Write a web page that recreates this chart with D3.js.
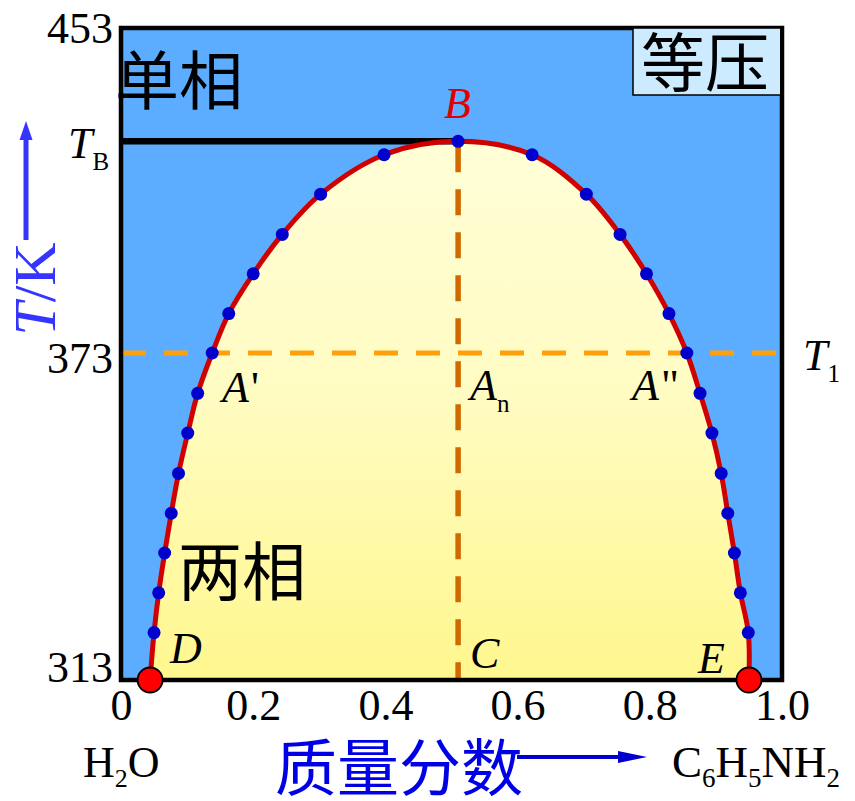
<!DOCTYPE html>
<html>
<head>
<meta charset="utf-8">
<script src="https://cdn.jsdelivr.net/npm/d3@7/dist/d3.min.js"></script>
<style>
  html, body { margin: 0; padding: 0; background: #fff; }
  svg { display: block; }
  .serif { font-family: "Liberation Serif", "DejaVu Serif", serif; }
  .cjk { font-family: "Noto Sans CJK SC", sans-serif; }
</style>
</head>
<body>
<svg id="chart" width="855" height="801"></svg>
<script>
// Temperature–composition diagram of the water / aniline system (isobaric)

// temperatures (K) of the measured points on the coexistence curve, top to bottom
const pointT = [421.8, 412.1, 402.2, 392.5, 382.7, 373, 365.6, 358.3, 350.9, 343.6, 336.3, 329.0, 321.7];
// aniline mass fraction of the water-rich branch at those temperatures
const leftW  = [0.398, 0.302, 0.244, 0.200, 0.163, 0.138, 0.116, 0.101, 0.087, 0.076, 0.066, 0.057, 0.050];
// aniline mass fraction of the aniline-rich branch at those temperatures
const rightW = [0.622, 0.704, 0.755, 0.795, 0.829, 0.856, 0.876, 0.894, 0.908, 0.918, 0.928, 0.937, 0.949];
// critical point B (mass fraction, T) and the two end points D, E at 313 K
const pointB = [0.510, 425.1];
const pointD = [0.044, 313];
const pointE = [0.950, 313];
const T1 = 373;
const xTicks = [0, 0.2, 0.4, 0.6, 0.8, 1.0];
const yTicks = [313, 373, 453];

const svg = d3.select("#chart");
const X0 = 121, X1 = 782, Y0 = 680, Y1 = 28;

const x = d3.scaleLinear().domain([0, 1]).range([X0, X1]);
// temperature axis is drawn piecewise between its labelled temperatures
const y = d3.scaleLinear().domain([313, 373, 453]).range([Y0, 353, Y1]);

const defs = svg.append("defs");
const grad = defs.append("linearGradient").attr("id", "twoPhase")
  .attr("gradientUnits", "userSpaceOnUse")
  .attr("x1", 0).attr("y1", y(pointB[1])).attr("x2", 0).attr("y2", Y0);
grad.append("stop").attr("offset", 0).attr("stop-color", "#FFFED6");
grad.append("stop").attr("offset", 0.45).attr("stop-color", "#FFFCC4");
grad.append("stop").attr("offset", 1).attr("stop-color", "#FFF78E");

// single-phase background
svg.append("rect").attr("x", X0).attr("y", Y1).attr("width", X1 - X0).attr("height", Y0 - Y1)
  .attr("fill", "#5CADFF");

// full curve D -> B -> E
const curvePts = [pointD]
  .concat(leftW.map((w, i) => [w, pointT[i]]).reverse())
  .concat([pointB])
  .concat(rightW.map((w, i) => [w, pointT[i]]))
  .concat([pointE]);

const line = d3.line().x(d => x(d[0])).y(d => y(d[1])).curve(d3.curveCatmullRom.alpha(0.5));

// two-phase region
svg.append("path").attr("d", line(curvePts) + "Z").attr("fill", "url(#twoPhase)");

// T_B level
svg.append("line").attr("x1", X0).attr("x2", x(pointB[0])).attr("y1", y(pointB[1])).attr("y2", y(pointB[1]))
  .attr("stroke", "#000").attr("stroke-width", 6.5);

// T1 isotherm
svg.append("line").attr("x1", X0 + 1).attr("x2", X1 - 4).attr("y1", y(T1)).attr("y2", y(T1))
  .attr("stroke", "#FF9F0A").attr("stroke-width", 5).attr("stroke-dasharray", "24,18");

// composition of B down to C
svg.append("line").attr("x1", x(pointB[0])).attr("x2", x(pointB[0])).attr("y1", y(pointB[1]) + 5).attr("y2", Y0)
  .attr("stroke", "#D06A00").attr("stroke-width", 5.5).attr("stroke-dasharray", "26,17");

// coexistence curve
svg.append("path").attr("d", line(curvePts)).attr("fill", "none")
  .attr("stroke", "#D00000").attr("stroke-width", 5);

// frame
svg.append("rect").attr("x", X0).attr("y", Y1).attr("width", X1 - X0).attr("height", Y0 - Y1)
  .attr("fill", "none").attr("stroke", "#000").attr("stroke-width", 4.5);

// measured points
const dots = [pointB].concat(leftW.map((w, i) => [w, pointT[i]]), rightW.map((w, i) => [w, pointT[i]]));
svg.append("g").selectAll("circle").data(dots).join("circle")
  .attr("cx", d => x(d[0])).attr("cy", d => y(d[1])).attr("r", 6.5).attr("fill", "#0000CC");

svg.append("g").selectAll("circle").data([pointD, pointE]).join("circle")
  .attr("cx", d => x(d[0])).attr("cy", d => y(d[1])).attr("r", 12.5)
  .attr("fill", "#FF0000").attr("stroke", "#000").attr("stroke-width", 1.8);

// "等压" box
svg.append("rect").attr("x", 633).attr("y", Y1).attr("width", X1 - 633).attr("height", 67)
  .attr("fill", "#CCEBFF").attr("stroke", "#000").attr("stroke-width", 1.5);
svg.append("rect").attr("x", X1 - 2).attr("y", Y1).attr("width", 4).attr("height", 67).attr("fill", "#000");
svg.append("text").attr("class", "cjk").attr("x", 641).attr("y", 86).attr("font-size", 64).text("等压");

// region labels
svg.append("text").attr("class", "cjk").attr("x", 115).attr("y", 104).attr("font-size", 64).attr("fill", "#000").text("单相");
svg.append("text").attr("class", "cjk").attr("x", 178).attr("y", 595).attr("font-size", 64).attr("fill", "#000").text("两相");

// x axis
const xAxis = d3.axisBottom(x).tickValues(xTicks).tickSize(0).tickPadding(9)
  .tickFormat(d => d === 0 ? "0" : d3.format(".1f")(d));
const gx = svg.append("g").attr("transform", `translate(0,${Y0})`).call(xAxis);
gx.select(".domain").remove();
gx.selectAll("text").attr("class", "serif").attr("font-size", 44).attr("fill", "#000");

// y axis labels
const yDy = {313: 2, 373: 20, 453: 15};
svg.append("g").selectAll("text").data(yTicks).join("text")
  .attr("class", "serif").attr("x", 113).attr("y", d => y(d) + yDy[d])
  .attr("text-anchor", "end").attr("font-size", 44).text(d => d);

// italic point labels, optional subscript or upright suffix
function label(txt, px, py, color, sub, suffix) {
  const t = svg.append("text").attr("class", "serif").attr("x", px).attr("y", py)
    .attr("font-size", 44).attr("fill", color || "#000");
  t.append("tspan").attr("font-style", "italic").text(txt);
  if (sub) t.append("tspan").attr("font-size", 25).attr("dy", 12).text(sub);
  if (suffix) t.append("tspan").attr("dx", 2).text(suffix);
  return t;
}
label("T", 68, 158, "#000", "B");
label("T", 803, 370, "#000", "1");
label("B", 444, 118, "#E00000");
label("A", 222, 402, "#000", null, "'");
label("A", 470, 400, "#000", "n");
label("A", 632, 400, "#000", null, "\"");
label("D", 170, 663);
label("C", 470, 668);
label("E", 698, 673);

// component names
const h2o = svg.append("text").attr("class", "serif").attr("x", 83).attr("y", 777).attr("font-size", 44);
h2o.append("tspan").text("H");
h2o.append("tspan").attr("font-size", 26).attr("dy", 10).text("2");
h2o.append("tspan").attr("dy", -10).text("O");

const anil = svg.append("text").attr("class", "serif").attr("x", 672).attr("y", 777).attr("font-size", 45);
[["C", false], ["6", true], ["H", false], ["5", true], ["NH", false], ["2", true]].forEach(([s, isSub], i, arr) => {
  const ts = anil.append("tspan").text(s);
  if (isSub) ts.attr("font-size", 27).attr("dy", 10);
  else if (i > 0 && arr[i - 1][1]) ts.attr("dy", -10);
});

// axis titles with arrows
const blueY = "#3535FF";
svg.append("text").attr("class", "serif").attr("transform", "translate(55,289) rotate(-90)")
  .attr("text-anchor", "middle").attr("font-size", 60).attr("fill", blueY)
  .call(t => { t.append("tspan").attr("font-style", "italic").text("T"); t.append("tspan").text("/K"); });
svg.append("line").attr("x1", 26).attr("x2", 26).attr("y1", 240).attr("y2", 136)
  .attr("stroke", blueY).attr("stroke-width", 5);
svg.append("path").attr("d", "M26,121 L19.5,140 L32.5,140 Z").attr("fill", blueY);

const blueX = "#0000E6";
svg.append("text").attr("class", "cjk").attr("x", 275).attr("y", 791).attr("font-size", 62)
  .attr("fill", blueX).text("质量分数");
svg.append("line").attr("x1", 517).attr("x2", 625).attr("y1", 757).attr("y2", 757)
  .attr("stroke", "#0000CC").attr("stroke-width", 4);
svg.append("path").attr("d", "M647,757 L618,751 L618,763 Z").attr("fill", "#0000CC");
</script>
</body>
</html>
